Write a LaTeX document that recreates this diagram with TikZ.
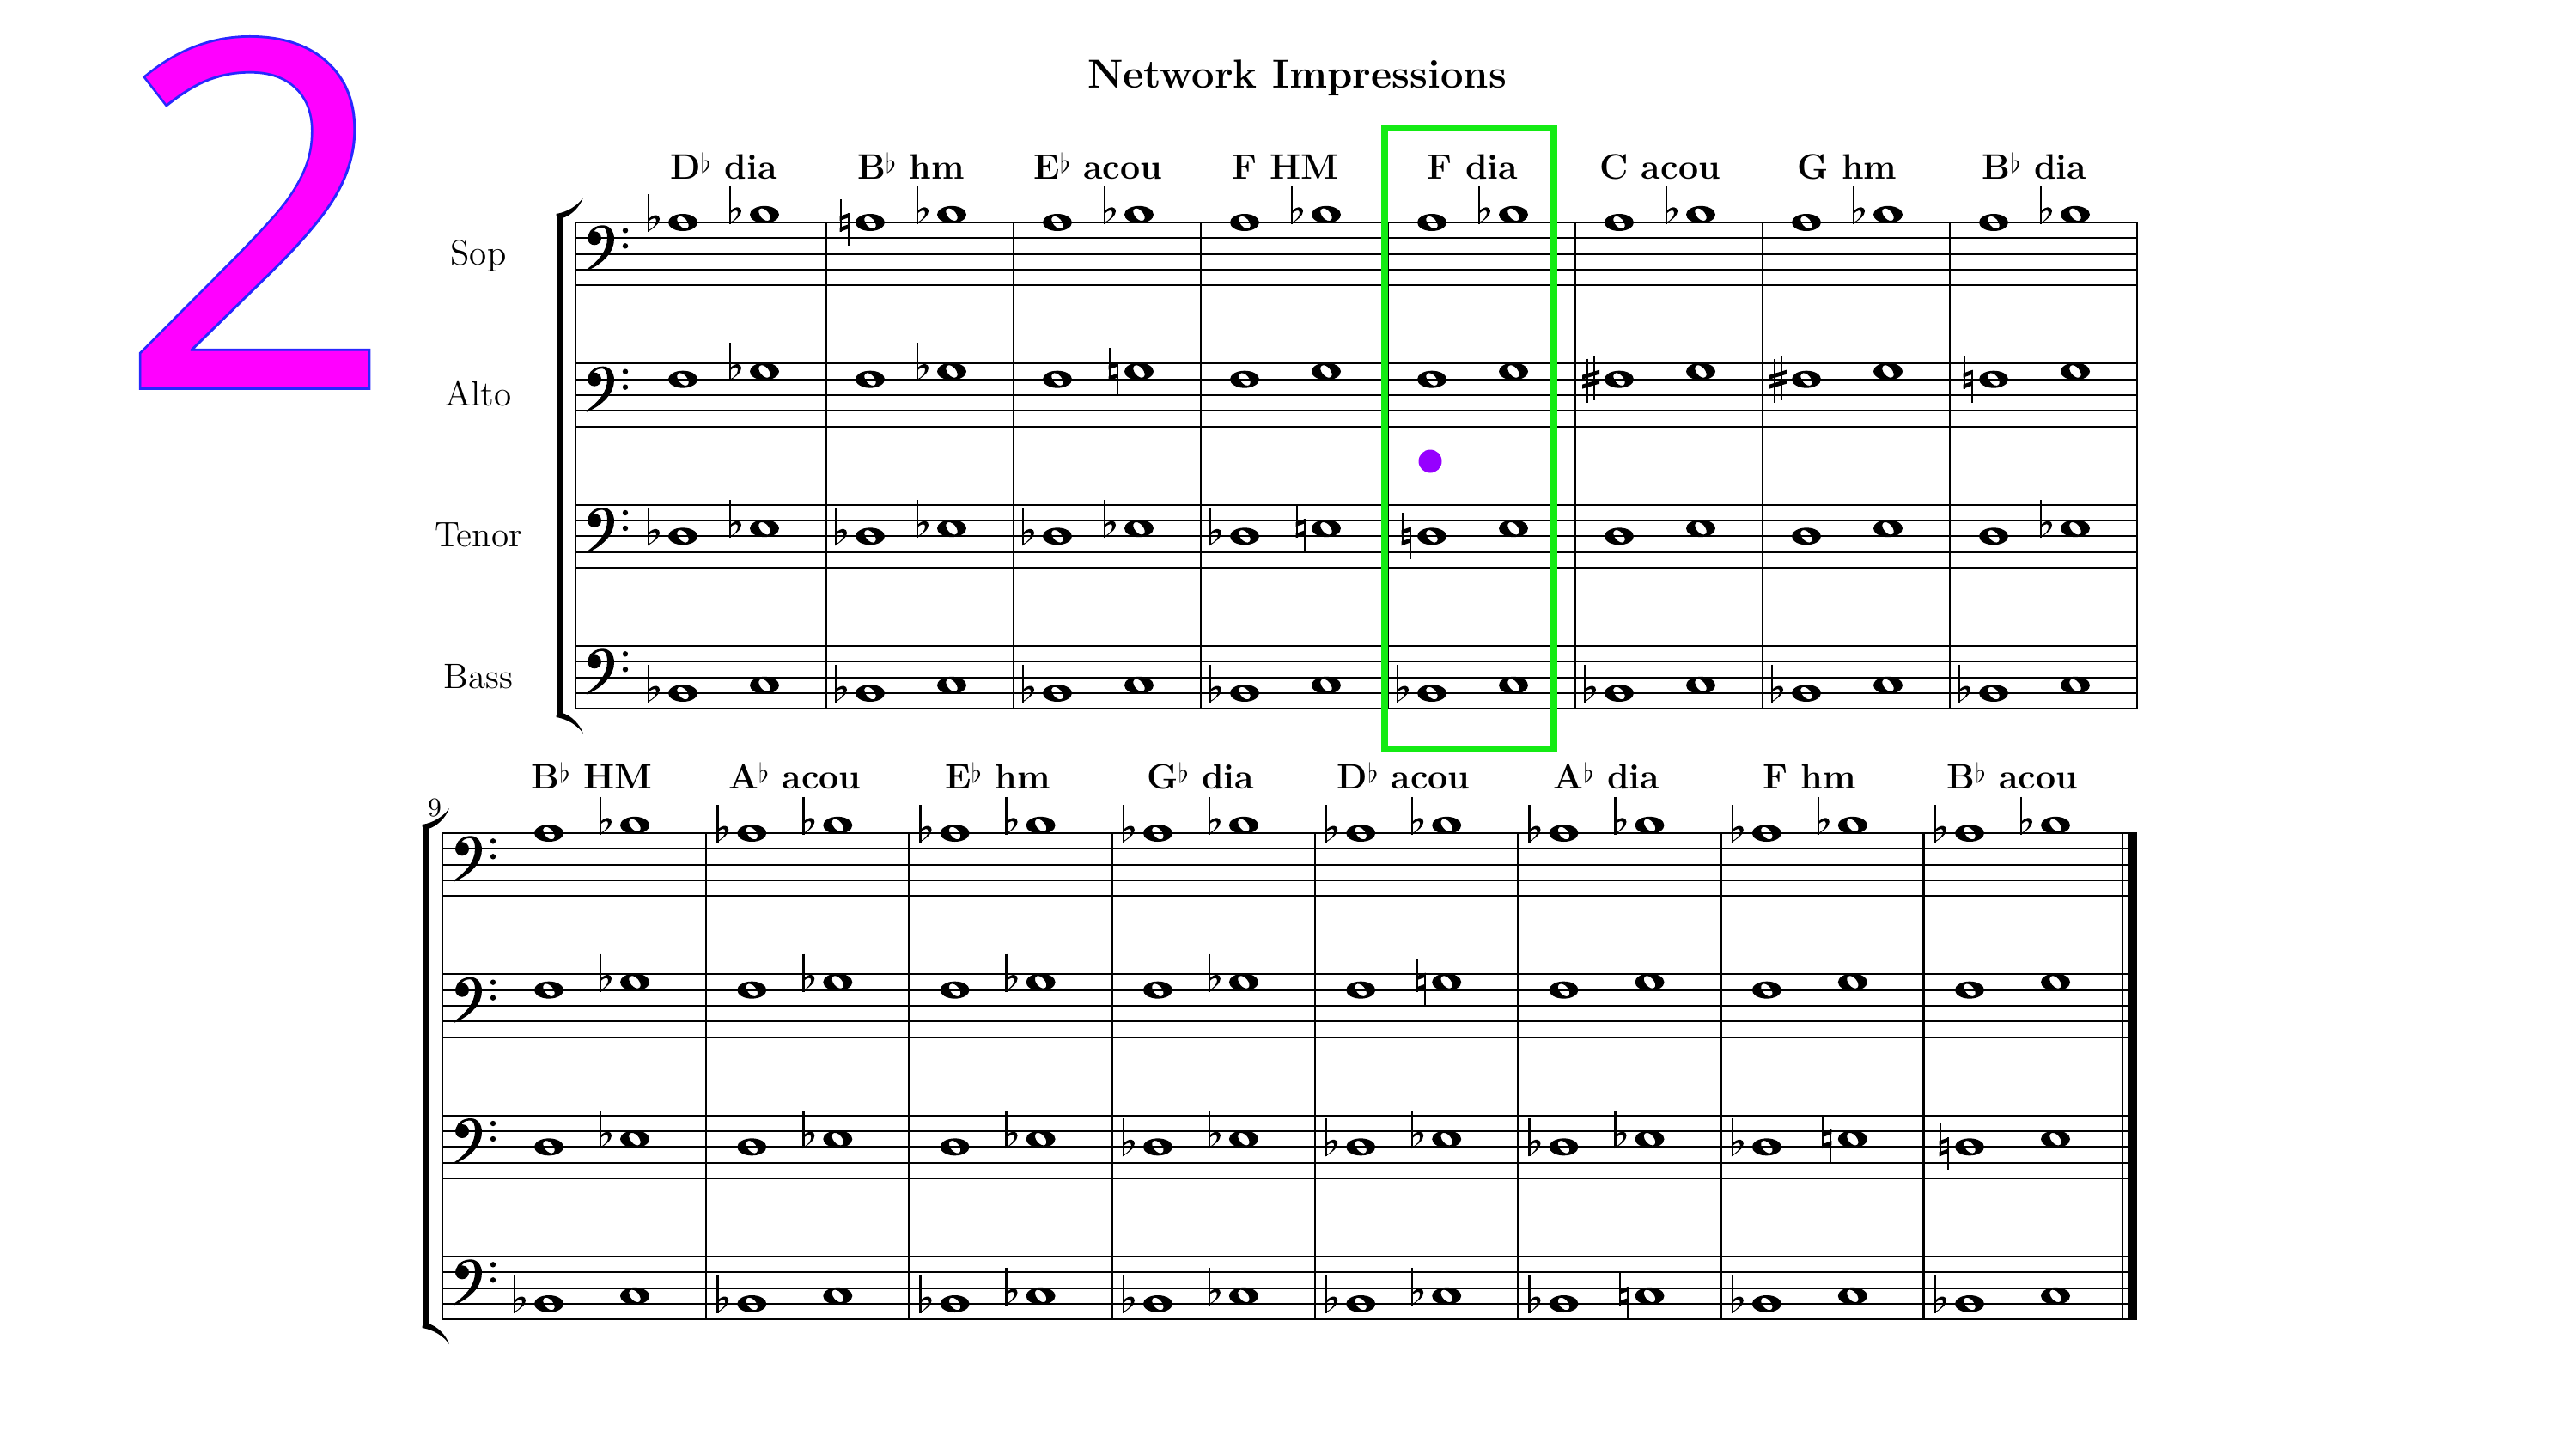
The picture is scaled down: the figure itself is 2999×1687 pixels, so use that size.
\documentclass[tikz,border=0pt]{standalone}
\usetikzlibrary{positioning}

\definecolor{twofill}{RGB}{255,0,255}
\definecolor{twoline}{RGB}{40,40,255}
\definecolor{boxgreen}{RGB}{20,235,20}
\definecolor{dotviolet}{RGB}{150,0,255}

\font\bigtwo="Open Sans" at 160pt
\font\bigtwoline="Open Sans:embolden=1" at 160pt

\newcommand{\fl}{\raisebox{.15em}{\scalebox{.75}{$\flat$}}}

\tikzset{
  staffline/.style={line width=0.2mm},
  barline/.style={line width=0.28mm},
  chord/.style={anchor=base,font=\fontsize{11.7}{14}\selectfont\bfseries},
  voicelab/.style={anchor=base,font=\fontsize{11.7}{14}\selectfont},
  wn/.pic={\fill[even odd rule] (0,0) ellipse [x radius=17,y radius=10]
    {[rotate=40] (0,0) ellipse [x radius=5,y radius=8.5]};},
  flt/.pic={\draw[line width=0.25mm] (-40,-33) -- (-40,11);
    \fill (-41,11) .. controls (-33,6) and (-27,1) .. (-27,-4)
      .. controls (-27,-9) and (-33,-11) .. (-40,-4) -- (-40,-1)
      .. controls (-35,-6) and (-31,-6) .. (-31,-2)
      .. controls (-31,2) and (-35,7) .. (-40,9) -- cycle;},
  nat/.pic={\draw[line width=0.2mm] (-34.5,-27) -- (-34.5,11) (-25.5,-11) -- (-25.5,27);
    \fill (-35.5,-7) -- (-24.5,-11) -- (-24.5,-6) -- (-35.5,-2) -- cycle
      (-35.5,6) -- (-24.5,2) -- (-24.5,7) -- (-35.5,11) -- cycle;},
  shp/.pic={\draw[line width=0.2mm] (-37,-24) -- (-37,27) (-29,-27) -- (-29,24);
    \fill (-43,-5) -- (-23,-11) -- (-23,-6) -- (-43,0) -- cycle
      (-43,6) -- (-23,0) -- (-23,5) -- (-43,11) -- cycle;},
  clef/.pic={\fill (0,0) circle (8);
    \fill (-7,-4) .. controls (-5,-11) and (2,-15) .. (10,-15)
      .. controls (18,-15) and (23,-8) .. (23,1)
      .. controls (23,16) and (10,30) .. (-9,38) -- (-9.5,36.5)
      .. controls (4,27) and (15,15) .. (15,0)
      .. controls (15,-8) and (13,-12.5) .. (9,-12.5)
      .. controls (4,-12.5) and (0,-10) .. (-1,-7) -- cycle;
    \fill (36,-9) circle (3.2) (36,9) circle (3.2);},
  hook/.pic={\fill (-3.5,0.5) -- (-3.5,-2) .. controls (9,-4) and (21,-11) .. (28,-21)
      .. controls (24,-10) and (14,0) .. (3.5,3) -- (3.5,0.5) -- cycle;}
}

\newcommand{\accat}[3]{%
  \if#1f\pic at ({#2},{#3}) {flt};\fi
  \if#1n\pic at ({#2},{#3}) {nat};\fi
  \if#1s\pic at ({#2},{#3}) {shp};\fi}
\newcommand{\voice}[4]{%
  \foreach \e/\a/\b in {#4}{%
    \pic at ({\e+\pa},{#1+(#2)*9.165}) {wn};
    \accat{\a}{\e+\pa}{#1+(#2)*9.165}
    \pic at ({\e+\pb},{#1+(#3)*9.165}) {wn};
    \accat{\b}{\e+\pb}{#1+(#3)*9.165}
  }}

\begin{document}
\begin{tikzpicture}[x=0.1mm,y=-0.1mm]
\useasboundingbox (0,0) rectangle (2999,1687);

\node[anchor=base,text=twoline] (bignum) at (298,451) {\bigtwoline 2};
\node[anchor=base,text=twofill] (bignumfill) at (298,451) {\bigtwo 2};
\node[anchor=base,font=\fontsize{13.4}{16}\selectfont\bfseries] (title) at (1510,102) {Network Impressions};

% first system
\foreach \t in {259,423.33,587.67,752}{
  \foreach \k in {0,...,4}
    \draw[staffline] (670,\t+\k*18.33) -- (2488,\t+\k*18.33);
  \pic at (692,\t+18.33) {clef};
}
\foreach \x in {670,962,1180,1398,1616,1834,2052,2270,2488}
  \draw[barline] (\x,259) -- (\x,825.33);
\fill (647.5,251) rectangle (654.5,833);
\pic at (651,251) {hook};
\pic[yscale=-1] at (651,833) {hook};

\node[voicelab] (sop) at (557,308) {Sop};
\node[voicelab] (alto) at (557,472) {Alto};
\node[voicelab] (tenor) at (557,636) {Tenor};
\node[voicelab] (bass) at (557,801) {Bass};

\foreach \e/\t [count=\i] in {962/{D\fl\ dia},1180/{B\fl\ hm},1398/{E\fl\ acou},1616/{F HM},
    1834/{F dia},2052/{C acou},2270/{G hm},2488/{B\fl\ dia}}
  \node[chord] (chA\i) at (\e-119.5,208) {\t};

\def\pa{-167}\def\pb{-72}
\voice{259}{0}{-1}{962/f/f,1180/n/f,1398/x/f,1616/x/f,1834/x/f,2052/x/f,2270/x/f,2488/x/f}
\voice{423.33}{2}{1}{962/x/f,1180/x/f,1398/x/n,1616/x/x,1834/x/x,2052/s/x,2270/s/x,2488/n/x}
\voice{587.67}{4}{3}{962/f/f,1180/f/f,1398/f/f,1616/f/n,1834/n/x,2052/x/x,2270/x/x,2488/x/f}
\voice{752}{6}{5}{962/f/x,1180/f/x,1398/f/x,1616/f/x,1834/f/x,2052/f/x,2270/f/x,2488/f/x}

% second system
\foreach \t in {970,1134.33,1298.67,1463}{
  \foreach \k in {0,...,4}
    \draw[staffline] (515,\t+\k*18.33) -- (2488,\t+\k*18.33);
  \pic at (538,\t+18.33) {clef};
}
\foreach \x in {515,822,1058.3,1294.6,1530.9,1767.2,2003.5,2239.8,2471}
  \draw[barline] (\x,970) -- (\x,1536.33);
\fill (2477,970) rectangle (2488,1536.33);
\fill (491.5,962) rectangle (498.5,1544);
\pic at (495,962) {hook};
\pic[yscale=-1] at (495,1544) {hook};
\node[anchor=base,font=\fontsize{8.8}{10}\selectfont] (mnum) at (506,950) {9};

\foreach \e/\t [count=\i] in {822/{B\fl\ HM},1058.3/{A\fl\ acou},1294.6/{E\fl\ hm},1530.9/{G\fl\ dia},
    1767.2/{D\fl\ acou},2003.5/{A\fl\ dia},2239.8/{F hm},2476/{B\fl\ acou}}
  \node[chord] (chB\i) at (\e-133,918) {\t};

\def\pa{-183}\def\pb{-83}
\voice{970}{0}{-1}{822/x/f,1058.3/f/f,1294.6/f/f,1530.9/f/f,1767.2/f/f,2003.5/f/f,2239.8/f/f,2476/f/f}
\voice{1134.33}{2}{1}{822/x/f,1058.3/x/f,1294.6/x/f,1530.9/x/f,1767.2/x/n,2003.5/x/x,2239.8/x/x,2476/x/x}
\voice{1298.67}{4}{3}{822/x/f,1058.3/x/f,1294.6/x/f,1530.9/f/f,1767.2/f/f,2003.5/f/f,2239.8/f/n,2476/n/x}
\voice{1463}{6}{5}{822/f/x,1058.3/f/x,1294.6/f/f,1530.9/f/f,1767.2/f/f,2003.5/f/n,2239.8/f/x,2476/f/x}

% highlight
\draw[boxgreen,line width=0.8mm] (1612,149) rectangle (1809,872);
\fill[dotviolet] (1665,537) circle (13.5);
\end{tikzpicture}
\end{document}
